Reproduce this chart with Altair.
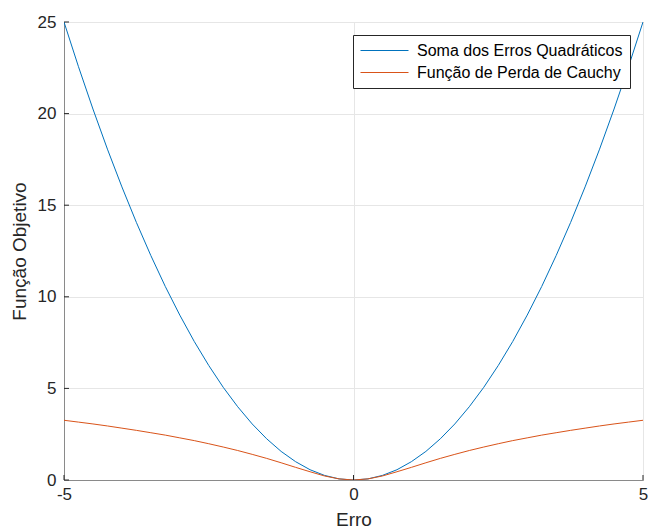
import altair as alt
import pandas as pd

erro = [-5.0, -4.75, -4.5, -4.25, -4.0, -3.75, -3.5, -3.25, -3.0, -2.75, -2.5,
        -2.25, -2.0, -1.75, -1.5, -1.25, -1.0, -0.75, -0.5, -0.25, 0.0,
        0.25, 0.5, 0.75, 1.0, 1.25, 1.5, 1.75, 2.0, 2.25, 2.5, 2.75, 3.0,
        3.25, 3.5, 3.75, 4.0, 4.25, 4.5, 4.75, 5.0]
soma_quadraticos = [25.0, 22.56, 20.25, 18.06, 16.0, 14.06, 12.25, 10.56, 9.0, 7.56, 6.25,
                    5.06, 4.0, 3.06, 2.25, 1.56, 1.0, 0.56, 0.25, 0.06, 0.0,
                    0.06, 0.25, 0.56, 1.0, 1.56, 2.25, 3.06, 4.0, 5.06, 6.25, 7.56, 9.0,
                    10.56, 12.25, 14.06, 16.0, 18.06, 20.25, 22.56, 25.0]
perda_cauchy = [3.26, 3.16, 3.06, 2.95, 2.83, 2.71, 2.58, 2.45, 2.30, 2.15, 1.98,
                1.80, 1.61, 1.40, 1.18, 0.94, 0.69, 0.45, 0.22, 0.06, 0.0,
                0.06, 0.22, 0.45, 0.69, 0.94, 1.18, 1.40, 1.61, 1.80, 1.98, 2.15, 2.30,
                2.45, 2.58, 2.71, 2.83, 2.95, 3.06, 3.16, 3.26]
series_names = ["Soma dos Erros Quadráticos", "Função de Perda de Cauchy"]
series_colors = ["#0072BD", "#D95319"]
x_ticks = [-5, 0, 5]
y_ticks = [0, 5, 10, 15, 20, 25]

rows = []
for xv, a, b in zip(erro, soma_quadraticos, perda_cauchy):
    rows.append({"x": xv, "y": a, "s": series_names[0]})
    rows.append({"x": xv, "y": b, "s": series_names[1]})
df = pd.DataFrame(rows)

W, H = 579, 458
FONT = "Liberation Sans"

xscale = alt.Scale(domain=[-5, 5], nice=False, zero=False)
yscale = alt.Scale(domain=[0, 25], nice=False, zero=False)

lines = alt.Chart(df).mark_line(strokeWidth=1, clip=True).encode(
    x=alt.X("x:Q", scale=xscale, title="Erro",
            axis=alt.Axis(values=x_ticks, grid=True, ticks=False, labelPadding=6,
                          labelFlush=False, labelExpr="'' + datum.value",
                          titlePadding=8)),
    y=alt.Y("y:Q", scale=yscale, title="Função Objetivo",
            axis=alt.Axis(values=y_ticks, grid=True, ticks=False, labelPadding=8,
                          labelFlush=False, labelExpr="'' + datum.value",
                          titlePadding=8)),
    color=alt.Color("s:N", scale=alt.Scale(domain=series_names, range=series_colors),
                    sort=series_names,
                    legend=alt.Legend(title=None, orient="none", legendX=289, legendY=13,
                                      symbolType="M-1,0H5", symbolSize=256,
                                      symbolStrokeWidth=1, symbolFillColor="transparent",
                                      labelFontSize=16,
                                      labelFont=FONT, labelColor="#000000",
                                      labelLimit=400,
                                      fillColor="#ffffff", strokeColor="#262626",
                                      padding=7, rowPadding=5, labelOffset=40)),
)

ytick_df = pd.DataFrame({"v": y_ticks})
xtick_df = pd.DataFrame({"v": x_ticks})
yticks = alt.Chart(ytick_df).mark_rule(color="#262626", strokeWidth=1).encode(
    y=alt.Y("v:Q", scale=yscale), x=alt.value(0), x2=alt.value(5))
xticks = alt.Chart(xtick_df).mark_rule(color="#262626", strokeWidth=1).encode(
    x=alt.X("v:Q", scale=xscale), y=alt.value(H), y2=alt.value(H - 5))

chart = alt.layer(lines, yticks, xticks).properties(
    width=W, height=H,
    autosize=alt.AutoSizeParams(type="none"),
    padding={"left": 64, "top": 22, "right": 5, "bottom": 52},
).configure_view(
    stroke="#262626", strokeWidth=1
).configure_axis(
    domainColor="#8a8a8a", domainWidth=1,
    gridColor="#e6e6e6", gridWidth=1,
    labelFont=FONT, labelFontSize=17, labelColor="#262626",
    titleFont=FONT, titleFontSize=19, titleFontWeight="normal", titleColor="#262626",
)

chart.save("out.html", embed_options={"renderer": "svg", "actions": False})
